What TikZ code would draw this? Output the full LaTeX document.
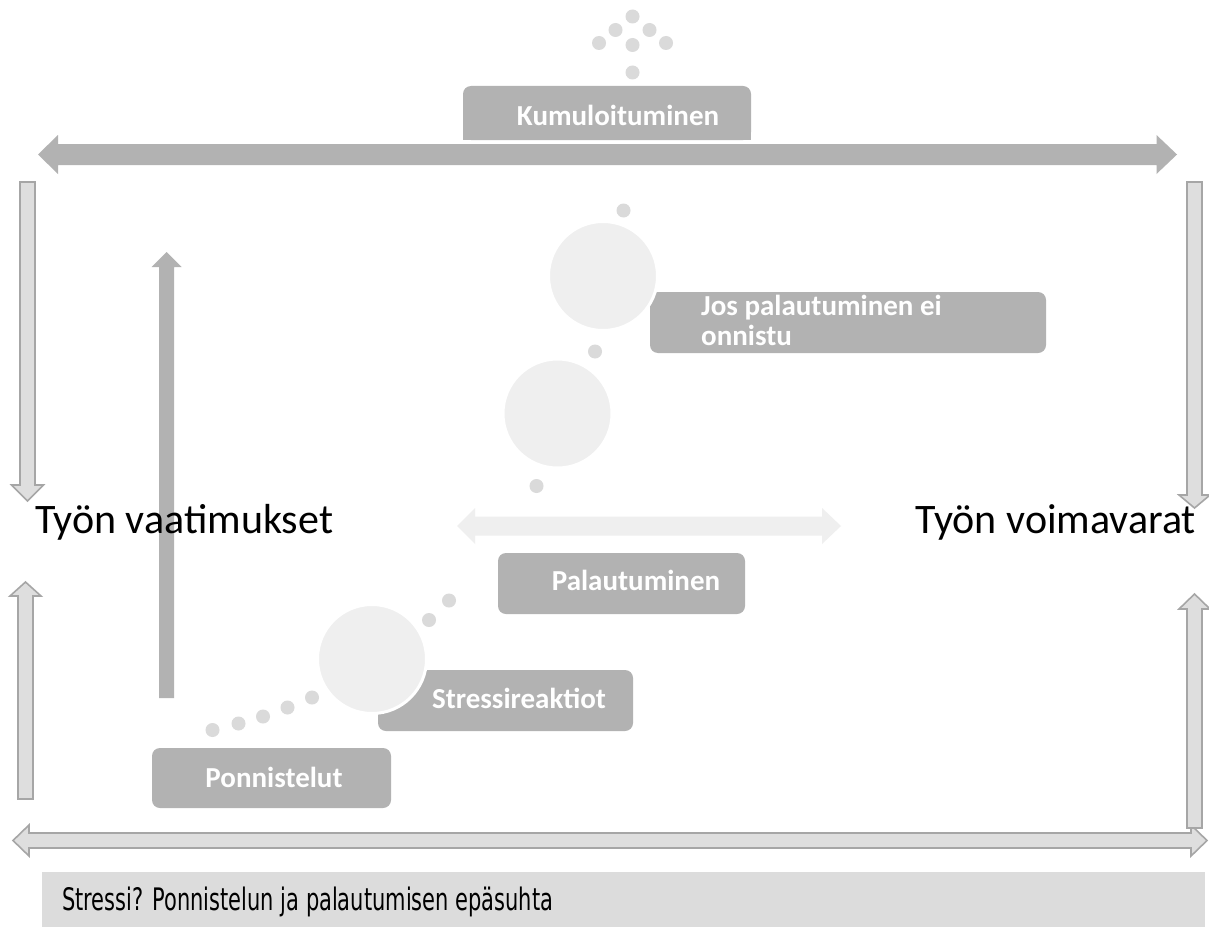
\documentclass[tikz,border=0pt]{standalone}
\usepackage{fontspec}
\setmainfont{Carlito}
\newfontfamily\dejavu{DejaVu Sans}
\definecolor{boxgray}{HTML}{B2B2B2}
\definecolor{dotgray}{HTML}{DADADA}
\definecolor{circgray}{HTML}{EFEFEF}
\definecolor{outfill}{HTML}{DEDEDE}
\definecolor{outlinegray}{HTML}{A6A6A6}
\definecolor{bandgray}{HTML}{DCDCDC}
\begin{document}
\begin{tikzpicture}[x=1pt,y=-1pt,
  lblbox/.style={fill=boxgray, rounded corners=8pt, inner sep=0pt, draw=none},
  lbltext/.style={text=white, font=\fontsize{29}{30}\selectfont\bfseries, inner sep=0pt},
  bigcirc/.style={circle, fill=circgray, draw=white, line width=3pt, inner sep=0pt, minimum size=109pt},
  smalldot/.style={circle, fill=dotgray, inner sep=0pt, minimum size=14pt},
  hollowarrow/.style={fill=outfill, draw=outlinegray, line width=1.6pt, line join=miter},
  solidarrow/.style={fill=boxgray, draw=none},
  lightarrow/.style={fill=circgray, draw=none},
  sidetext/.style={font=\fontsize{42}{46}\selectfont, text=black, inner sep=0pt}
]
\useasboundingbox (0,0) rectangle (1209,939);
\fill[white] (0,0) rectangle (1209,939);

% bottom band
\node[fill=bandgray, inner sep=0pt, minimum width=1163pt, minimum height=55pt] (band) at (623.5,899.5) {};
\node[anchor=base west, inner sep=0pt, text=black] (bandtext) at (62,910)
  {\resizebox{491pt}{\height}{\dejavu\fontsize{31}{34}\selectfont Stressi? Ponnistelun ja palautumisen epäsuhta}};

% bottom double outline arrow
\draw[hollowarrow] (13,840.5) -- (29,825) -- (29,833) -- (1191,833) -- (1191,825) -- (1207,840.5)
  -- (1191,856) -- (1191,848) -- (29,848) -- (29,856) -- cycle;

% left vertical outline arrows
\draw[hollowarrow] (20,182) -- (35,182) -- (35,485) -- (43.5,485) -- (27.5,501) -- (11.5,485) -- (20,485) -- cycle;
\draw[hollowarrow] (18,799) -- (33,799) -- (33,596) -- (41,596) -- (25.5,582) -- (10,596) -- (18,596) -- cycle;
% right vertical outline arrows
\draw[hollowarrow] (1187,182) -- (1202,182) -- (1202,495) -- (1210,495) -- (1194.5,508) -- (1179,495) -- (1187,495) -- cycle;
\draw[hollowarrow] (1187,828) -- (1202,828) -- (1202,609) -- (1210,609) -- (1194.5,594) -- (1179,609) -- (1187,609) -- cycle;

% dark vertical arrow
\fill[solidarrow] (159,698) -- (174,698) -- (174,267) -- (181.5,267) -- (166.5,252) -- (151.5,267) -- (159,267) -- cycle;

% top double solid arrow
\fill[solidarrow] (38,154.5) -- (58,135) -- (58,144) -- (1156.5,144) -- (1156.5,135) -- (1177,154.5)
  -- (1156.5,174) -- (1156.5,165) -- (58,165) -- (58,174) -- cycle;

% middle light double arrow
\fill[lightarrow] (457,526) -- (475,508) -- (475,516.5) -- (822,516.5) -- (822,508) -- (841,526)
  -- (822,544) -- (822,535.5) -- (475,535.5) -- (475,544) -- cycle;

% side texts
\node[sidetext, anchor=base west] (demands) at (35,533) {Työn vaatimukset};
\node[sidetext, anchor=base east] (resources) at (1196,533) {Työn voimavarat};

% boxes
\node[lblbox, minimum width=288pt, minimum height=54pt] (kum) at (607,113) {};
\fill[boxgray] (463,120) rectangle (751,140);
\node[lblbox, minimum width=396pt, minimum height=61pt] (jos) at (848,322.5) {};
\node[lblbox, minimum width=247pt, minimum height=61pt] (pal) at (621.5,583.5) {};
\node[lblbox, minimum width=255pt, minimum height=61pt] (str) at (505.5,700.5) {};
\node[lblbox, minimum width=239pt, minimum height=60pt] (pon) at (271.5,778) {};

% big circles
\node[bigcirc] (c1) at (603,276) {};
\node[bigcirc] (c2) at (557.5,413.5) {};
\node[bigcirc] (c3) at (372,659) {};

% small dots
\node[smalldot] (t1) at (632.5,16.5) {};
\node[smalldot] (t2) at (615.5,30) {};
\node[smalldot] (t3) at (649.5,30) {};
\node[smalldot] (t4) at (599,43) {};
\node[smalldot] (t5) at (632.5,45) {};
\node[smalldot] (t6) at (666,43) {};
\node[smalldot] (t7) at (632.5,72.5) {};
\node[smalldot] (u1) at (623.5,210.5) {};
\node[smalldot] (u2) at (595,351.5) {};
\node[smalldot] (u3) at (536.5,486) {};
\node[smalldot] (u4) at (449,600.5) {};
\node[smalldot] (u5) at (429,620) {};
\node[smalldot] (u6) at (312,697.5) {};
\node[smalldot] (u7) at (287.5,707.5) {};
\node[smalldot] (u8) at (263,716.5) {};
\node[smalldot] (u9) at (238.5,723.5) {};
\node[smalldot] (u10) at (212.5,730) {};

% labels
\node[lbltext, anchor=base] (kumt) at (618,125) {Kumuloituminen};
\node[lbltext, anchor=base west] (jost1) at (701,315) {Jos palautuminen ei};
\node[lbltext, anchor=base west] (jost2) at (701,345) {onnistu};
\node[lbltext, anchor=base] (palt) at (636,590.5) {Palautuminen};
\node[lbltext, anchor=base] (strt) at (519,708) {Stressireaktiot};
\node[lbltext, anchor=base] (pont) at (274,787) {Ponnistelut};
\end{tikzpicture}
\end{document}
